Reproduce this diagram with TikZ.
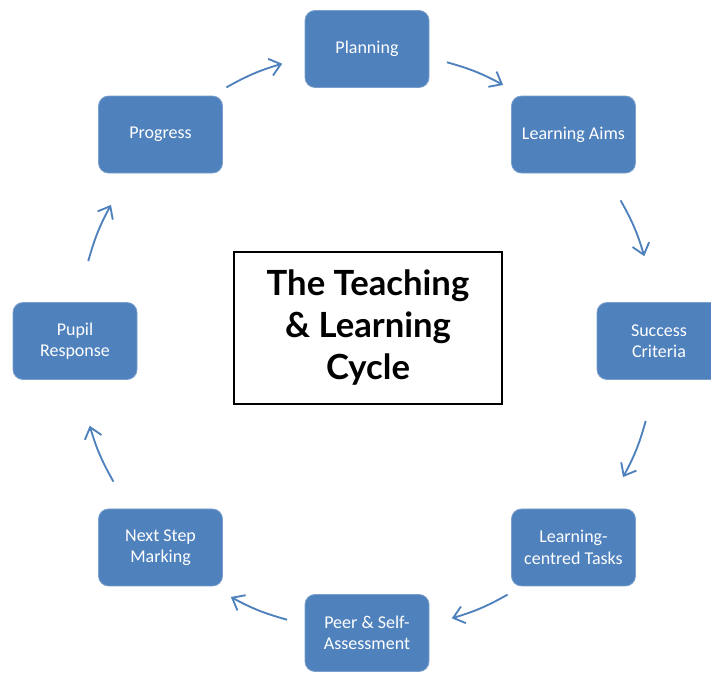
\documentclass[tikz,border=0pt]{standalone}
\usepackage{fontspec}
\setmainfont{Carlito}
\newfontfamily\titlefont{Lato}
\usetikzlibrary{calc,arrows.meta}
\definecolor{boxblue}{HTML}{4F81BD}

\begin{document}
\begin{tikzpicture}[x=0.75pt,y=0.75pt,
  stage/.style={rectangle,rounded corners=7.5pt,fill=boxblue,draw=boxblue!75!white,
    line width=0.6pt,text=white,minimum width=93pt,minimum height=57.75pt,
    align=center,font=\fontsize{13.5}{16}\selectfont},
  flow/.style={draw=boxblue,line width=1.4pt,-{Straight Barb[length=8pt,width=13pt]}}]
  \useasboundingbox (0,0) rectangle (711,672);
  \coordinate (hub) at (367,331);
  \node[draw,line width=1pt,minimum width=201pt,minimum height=114pt,align=center,
    font=\titlefont\bfseries\fontsize{26}{31.5}\selectfont] (title) at (368,344)
    {The Teaching\\ \& Learning\\ Cycle};
  \foreach \nd/\a/\t in {plan/90/{Planning}, aims/45/{Learning Aims},
      crit/0/{Success\\Criteria}, tasks/-45/{Learning-\\centred Tasks},
      peer/-90/{Peer \& Self-\\Assessment}, mark/-135/{Next Step\\Marking},
      resp/180/{Pupil\\Response}, prog/135/{Progress}}
    \node[stage] (\nd) at ($(hub)+(\a:292)$) {\t};
  \foreach \a/\b in {plan/aims, aims/crit, crit/tasks, tasks/peer,
      peer/mark, mark/resp, resp/prog, prog/plan}
    \draw[flow] ($(hub)!0.993!-16:(\a)$) to[bend left=6.5] ($(hub)!0.993!17:(\b)$);
\end{tikzpicture}
\end{document}
